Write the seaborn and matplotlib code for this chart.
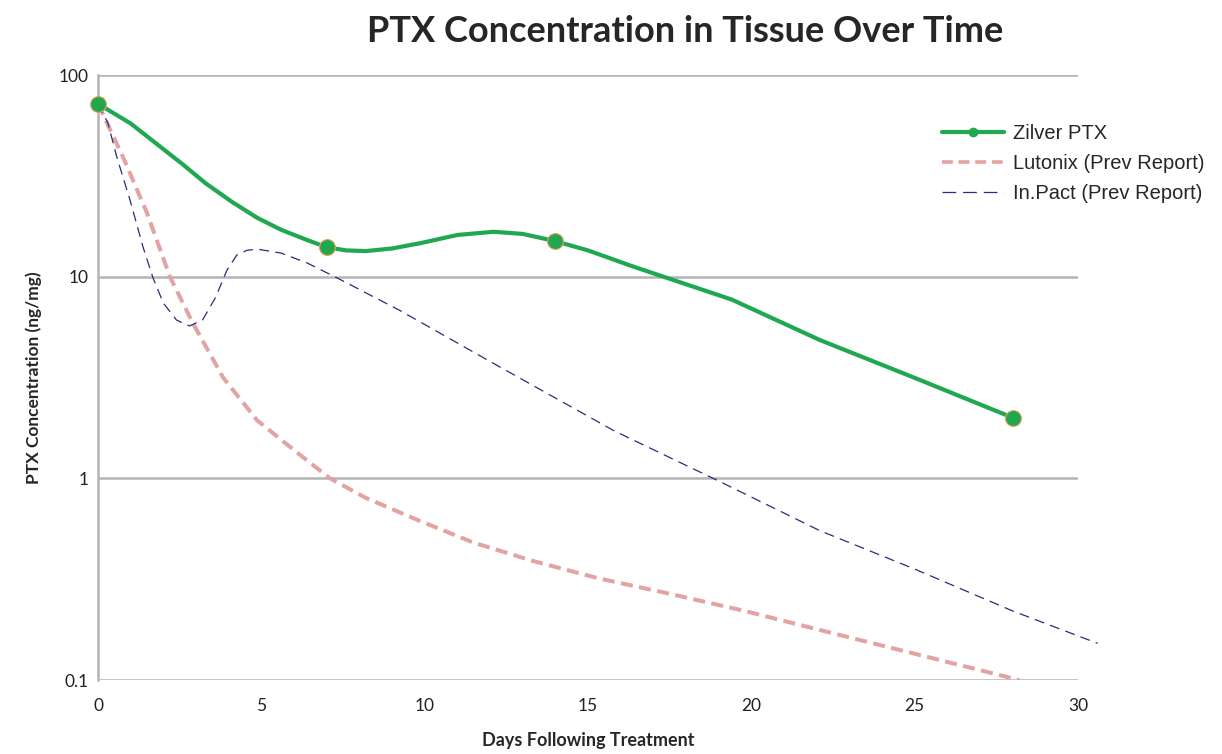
import matplotlib
matplotlib.use("Agg")
import matplotlib.pyplot as plt
from matplotlib.lines import Line2D
import seaborn as sns

# Zilver PTX measured points
zilver_days = [0, 7, 14, 28]
zilver_conc = [72, 14, 15, 2]

# Zilver PTX smoothed trace
zilver_trace_days = [0, 1, 1.8, 2.6, 3.3, 4.1, 4.87, 5.6, 6.4, 7, 7.6, 8.2, 9, 9.9, 11, 12.1, 13, 14,
                     15, 16.4, 19.4, 22.1, 25, 28]
zilver_trace_conc = [72, 57.5, 45.5, 36, 29, 23.5, 19.6, 17.1, 15.2, 14, 13.5, 13.4, 13.8, 14.7, 16.1,
                     16.7, 16.3, 15, 13.5, 11.2, 7.7, 4.85, 3.15, 2]

# Lutonix (previous report)
lutonix_days = [0, 0.77, 1.5, 2.2, 2.9, 3.83, 4.87, 6.1, 7.1, 8.2, 9.8, 11.5, 13.3, 15.3, 17.4, 19.8,
                22.1, 25, 28.2]
lutonix_conc = [72, 39, 20.7, 10, 5.9, 3.16, 1.94, 1.34, 1.0, 0.8, 0.62, 0.48, 0.39, 0.32, 0.27, 0.22,
                0.177, 0.135, 0.1]

# In.Pact (previous report)
inpact_days = [0, 0.3, 0.58, 0.98, 1.38, 1.68, 2.0, 2.4, 2.8, 3.2, 3.6, 3.95, 4.25, 4.55, 4.87, 5.6,
               6.4, 7.3, 9.24, 12, 15.8, 19, 22.1, 25, 28, 30.6]
inpact_conc = [72, 58, 39, 24, 14, 9.9, 7.4, 6.1, 5.7, 6.1, 7.9, 10.8, 12.8, 13.5, 13.7, 13.1,
               11.7, 9.9, 6.8, 3.8, 1.72, 0.97, 0.55, 0.355, 0.22, 0.152]

x_ticks = [0, 5, 10, 15, 20, 25, 30]
y_ticks = [0.1, 1, 10, 100]
y_tick_labels = ["0.1", "1", "10", "100"]
labels = ["Zilver PTX", "Lutonix (Prev Report)", "In.Pact (Prev Report)"]

sns.set_style("white")
plt.rcParams["font.family"] = ["Lato", "DejaVu Sans"]

fig = plt.figure(figsize=(12.22, 7.54), dpi=100)
ax = fig.add_axes([0.0802, 0.0981, 0.802, 0.8024])

green = "#1fa84f"
pink = "#e2a3a3"
navy = "#2b2b7a"

sns.lineplot(x=lutonix_days, y=lutonix_conc, ax=ax, color=pink, linewidth=2.9, zorder=3)
ax.lines[-1].set_dashes([3.0, 1.6])
sns.lineplot(x=inpact_days, y=inpact_conc, ax=ax, color=navy, linewidth=0.9, zorder=3)
ax.lines[-1].set_dashes([8, 5])
ax.lines[-1].set_clip_on(False)
sns.lineplot(x=zilver_trace_days, y=zilver_trace_conc, ax=ax, color=green, linewidth=3.0, zorder=4)
sns.scatterplot(x=zilver_days, y=zilver_conc, ax=ax, color=green, s=130,
                edgecolor="#e8a060", linewidth=0.8, zorder=5, clip_on=False)

ax.set_yscale("log")
ax.set_ylim(0.1, 100)
ax.set_xlim(0, 30)
ax.set_yticks(y_ticks)
ax.set_yticklabels(y_tick_labels)
ax.minorticks_off()
ax.set_xticks(x_ticks)
ax.tick_params(axis="both", length=0, labelsize=12.5, colors="#222222")
ax.tick_params(axis="x", pad=13)
ax.tick_params(axis="y", pad=7)
ax.yaxis.grid(True, color="#b4b4b4", linewidth=1.8)
ax.xaxis.grid(False)
for s in ["top", "right", "bottom"]:
    ax.spines[s].set_visible(False)
ax.spines["left"].set_color("#b4b4b4")
ax.spines["left"].set_linewidth(1.8)

ax.set_xlabel("Days Following Treatment", fontsize=13, fontweight="bold", labelpad=13)
ax.set_ylabel("PTX Concentration (ng/mg)", fontsize=12.5, fontweight="bold", labelpad=12)
fig.text(0.561, 0.958, "PTX Concentration in Tissue Over Time", ha="center", va="center",
         fontsize=26, fontweight="bold")

handles = [
    Line2D([], [], color=green, linewidth=3.0, marker="o", markersize=6),
    Line2D([], [], color=pink, linewidth=2.6, dashes=[3.0, 1.6]),
    Line2D([], [], color=navy, linewidth=0.9, dashes=[11, 5.5]),
]
fig.legend(handles, labels, loc="upper left", bbox_to_anchor=(0.756, 0.860),
           frameon=False, handlelength=3.1, handletextpad=0.45, labelspacing=0.55,
           prop={"family": ["Liberation Sans", "DejaVu Sans"], "size": 14.5})

fig.savefig("out.png", dpi=100)
